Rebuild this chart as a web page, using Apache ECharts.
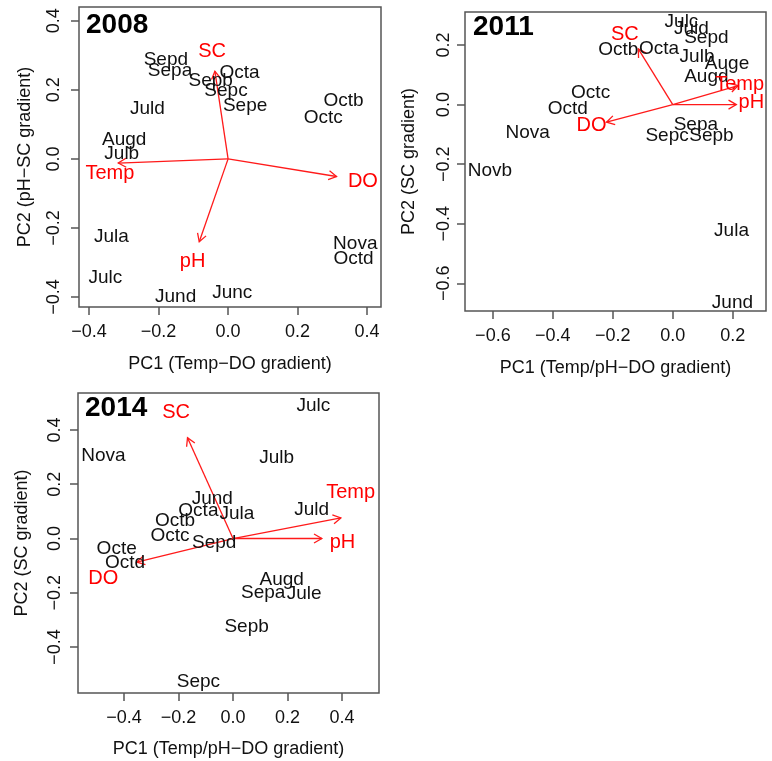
<!DOCTYPE html>
<html><head><meta charset="utf-8">
<script src="https://cdn.jsdelivr.net/npm/echarts@6/dist/echarts.min.js"></script>
<style>html,body{margin:0;padding:0;background:#fff}#c{width:772px;height:761px}</style>
</head><body><div id="c"></div>
<script>
// ---------- 2008 ----------
const labels2008 = ['Sepd','Sepa','Sepb','Sepc','Octa','Sepe','Juld','Octb','Octc','Augd','Julb','Jula','Julc','Jund','Junc','Nova','Octd'];
const pc1_2008 = [-0.179,-0.167,-0.050,-0.006,0.033,0.049,-0.232,0.332,0.274,-0.299,-0.306,-0.336,-0.353,-0.151,0.012,0.366,0.361];
const pc2_2008 = [0.287,0.255,0.226,0.197,0.250,0.154,0.144,0.168,0.120,0.055,0.014,-0.227,-0.343,-0.399,-0.389,-0.247,-0.289];
const vars2008 = ['SC','Temp','DO','pH'];
const arrowX2008 = [-0.038,-0.316,0.312,-0.083];
const arrowY2008 = [0.254,-0.012,-0.051,-0.240];
const varLabX2008 = [-0.046,-0.340,0.388,-0.102];
const varLabY2008 = [0.311,-0.042,-0.064,-0.296];

// ---------- 2011 ----------
const labels2011 = ['Julc','Juld','Sepd','Octb','Octa','Julb','Auge','Augd','Octc','Octd','Nova','Novb','Sepa','Sepc','Sepb','Jula','Jund'];
const pc1_2011 = [0.029,0.062,0.112,-0.182,-0.046,0.081,0.181,0.112,-0.274,-0.350,-0.484,-0.610,0.077,-0.019,0.129,0.196,0.199];
const pc2_2011 = [0.277,0.254,0.223,0.184,0.189,0.161,0.137,0.094,0.039,-0.015,-0.095,-0.222,-0.067,-0.103,-0.106,-0.424,-0.664];
const vars2011 = ['SC','Temp','pH','DO'];
const arrowX2011 = [-0.115,0.218,0.212,-0.221];
const arrowY2011 = [0.187,0.064,0.000,-0.059];
const varLabX2011 = [-0.160,0.223,0.262,-0.271];
const varLabY2011 = [0.237,0.069,0.008,-0.071];

// ---------- 2014 ----------
const labels2014 = ['Julc','Nova','Julb','Jund','Octa','Jula','Octb','Juld','Octc','Sepd','Octe','Octd','Augd','Sepa','Jule','Sepb','Sepc'];
const pc1_2014 = [0.295,-0.476,0.160,-0.076,-0.127,0.014,-0.213,0.289,-0.231,-0.069,-0.427,-0.396,0.179,0.111,0.261,0.050,-0.127];
const pc2_2014 = [0.488,0.306,0.298,0.148,0.104,0.091,0.066,0.107,0.011,-0.016,-0.038,-0.090,-0.151,-0.200,-0.204,-0.324,-0.527];
const vars2014 = ['SC','Temp','pH','DO'];
const arrowX2014 = [-0.167,0.396,0.326,-0.353];
const arrowY2014 = [0.371,0.076,0.000,-0.087];
const varLabX2014 = [-0.209,0.432,0.402,-0.476];
const varLabY2014 = [0.464,0.171,-0.016,-0.148];

// tick values and axis titles
const ticks2008 = [-0.4,-0.2,0.0,0.2,0.4];
const ticks2011 = [-0.6,-0.4,-0.2,0.0,0.2];
const ticks2014 = [-0.4,-0.2,0.0,0.2,0.4];
const yTicks2014 = [-0.4,-0.2,0.0,0.2,0.4];
const xTitle2008 = 'PC1 (Temp\u2212DO gradient)';
const yTitle2008 = 'PC2 (pH\u2212SC gradient)';
const xTitle2011 = 'PC1 (Temp/pH\u2212DO gradient)';
const yTitle2011 = 'PC2 (SC gradient)';
const xTitle2014 = 'PC1 (Temp/pH\u2212DO gradient)';
const yTitle2014 = 'PC2 (SC gradient)';
const years = ['2008','2011','2014'];

const FONT = '"Liberation Sans", Arial, Helvetica, sans-serif';
const BOX = '#555555';
const RED = '#ff1a1a';
const INK = '#111111';

const fmt = v => (v < 0 ? '\u2212' : '') + Math.abs(v).toFixed(1);

const panels = [
  {grid:{left:79,top:7,width:302,height:300}, range:[-0.429,0.440], xt:ticks2008, yt:ticks2008,
   xTitle:xTitle2008, yTitle:yTitle2008, labels:labels2008, x:pc1_2008, y:pc2_2008,
   vars:vars2008, ax:arrowX2008, ay:arrowY2008, lx:varLabX2008, ly:varLabY2008,
   xLabMargin:16, xNameGap:48, yLabMargin:16, yNameGap:45, title:{left:86,top:11}},
  {grid:{left:465,top:12,width:301,height:299}, range:[-0.693,0.311], xt:ticks2011, yt:ticks2011,
   xTitle:xTitle2011, yTitle:yTitle2011, labels:labels2011, x:pc1_2011, y:pc2_2011,
   vars:vars2011, ax:arrowX2011, ay:arrowY2011, lx:varLabX2011, ly:varLabY2011,
   xLabMargin:16, xNameGap:48, yLabMargin:12, yNameGap:47, title:{left:473,top:13}},
  {grid:{left:78,top:393,width:301,height:300}, range:[-0.569,0.536], xt:ticks2014, yt:yTicks2014,
   xTitle:xTitle2014, yTitle:yTitle2014, labels:labels2014, x:pc1_2014, y:pc2_2014,
   vars:vars2014, ax:arrowX2014, ay:arrowY2014, lx:varLabX2014, ly:varLabY2014,
   xLabMargin:16, xNameGap:47, yLabMargin:14, yNameGap:47, title:{left:85,top:394}}
];

const option = {
  animation:false,
  backgroundColor:'#fff',
  title:[], grid:[], xAxis:[], yAxis:[], series:[]
};

panels.forEach((p,i) => {
  option.title.push({text:years[i], left:p.title.left, top:p.title.top, padding:0,
    textStyle:{fontFamily:FONT, fontSize:28, fontWeight:'bold', color:'#000'}});
  option.grid.push(Object.assign({show:true, borderColor:BOX, borderWidth:1.5, backgroundColor:'transparent'}, p.grid));
  option.xAxis.push({type:'value', gridIndex:i, min:p.range[0], max:p.range[1], position:'bottom',
    name:p.xTitle, nameLocation:'middle', nameGap:p.xNameGap,
    nameTextStyle:{fontFamily:FONT, fontSize:18, color:INK},
    axisLine:{show:false, onZero:false}, splitLine:{show:false},
    axisTick:{show:true, length:8, inside:false, customValues:p.xt, lineStyle:{color:BOX, width:1.5}},
    axisLabel:{show:true, margin:p.xLabMargin, customValues:p.xt, formatter:fmt,
      fontFamily:FONT, fontSize:18, color:INK}});
  option.yAxis.push({type:'value', gridIndex:i, min:p.range[0], max:p.range[1], position:'left',
    name:p.yTitle, nameLocation:'middle', nameGap:p.yNameGap, nameRotate:90,
    nameTextStyle:{fontFamily:FONT, fontSize:18, color:INK},
    axisLine:{show:false, onZero:false}, splitLine:{show:false},
    axisTick:{show:true, length:8, inside:false, customValues:p.yt, lineStyle:{color:BOX, width:1.5}},
    axisLabel:{show:true, rotate:90, margin:p.yLabMargin, customValues:p.yt, formatter:fmt,
      fontFamily:FONT, fontSize:18, color:INK}});
  // arrows
  option.series.push({type:'custom', xAxisIndex:i, yAxisIndex:i, silent:true, clip:false,
    data:p.vars.map((v,k)=>[p.ax[k], p.ay[k]]),
    renderItem:(params, api) => {
      const o = api.coord([0,0]);
      const t = api.coord([api.value(0), api.value(1)]);
      const ang = Math.atan2(t[1]-o[1], t[0]-o[0]);
      const L = 9, A = Math.PI/6;
      const h1 = [t[0]-L*Math.cos(ang-A), t[1]-L*Math.sin(ang-A)];
      const h2 = [t[0]-L*Math.cos(ang+A), t[1]-L*Math.sin(ang+A)];
      return {type:'group', children:[
        {type:'line', shape:{x1:o[0],y1:o[1],x2:t[0],y2:t[1]}, style:{stroke:RED, lineWidth:1.3}},
        {type:'polyline', shape:{points:[h1,t,h2]}, style:{stroke:RED, lineWidth:1.3, fill:null}}
      ]};
    }});
  // sample labels
  option.series.push({type:'scatter', xAxisIndex:i, yAxisIndex:i, silent:true,
    symbol:'circle', symbolSize:1, itemStyle:{color:'rgba(255,255,255,0)', opacity:1},
    data:p.labels.map((n,k)=>({name:n, value:[p.x[k], p.y[k]]})),
    label:{show:true, position:'inside', formatter:'{b}', fontFamily:FONT, fontSize:19, color:INK, opacity:1},
    labelLayout:{hideOverlap:false}});
  // variable labels
  option.series.push({type:'scatter', xAxisIndex:i, yAxisIndex:i, silent:true,
    symbol:'circle', symbolSize:1, itemStyle:{color:'rgba(255,255,255,0)', opacity:1},
    data:p.vars.map((n,k)=>({name:n, value:[p.lx[k], p.ly[k]]})),
    label:{show:true, position:'inside', formatter:'{b}', fontFamily:FONT, fontSize:20, color:'#ff0000', opacity:1},
    labelLayout:{hideOverlap:false}});
});

const chart = echarts.init(document.getElementById('c'), null, {renderer:'canvas'});
chart.setOption(option);
</script>
</body></html>
